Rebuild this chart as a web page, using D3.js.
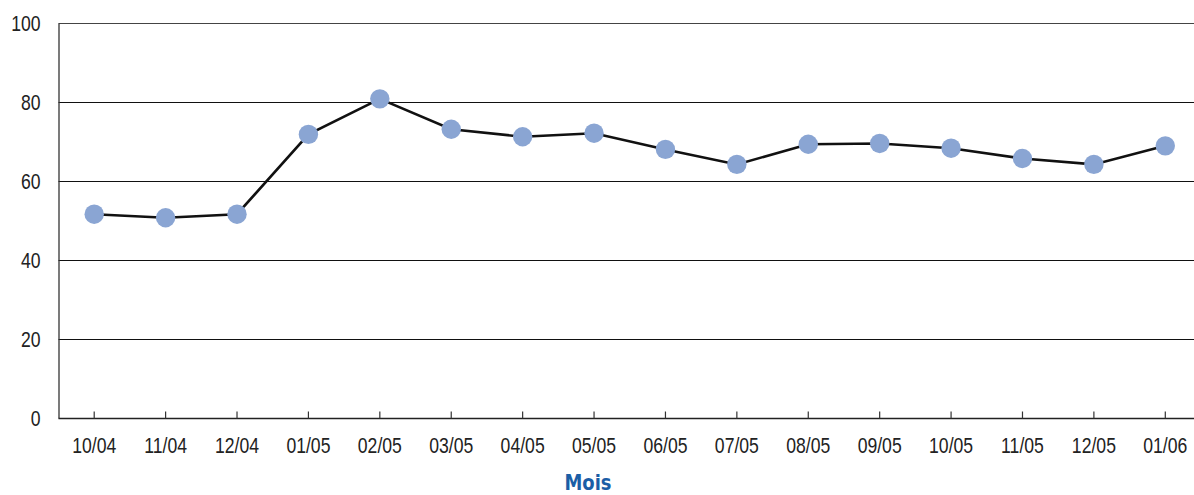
<!DOCTYPE html>
<html><head><meta charset="utf-8">
<script src="https://cdn.jsdelivr.net/npm/d3@7"></script>
<style>
html,body{margin:0;padding:0;background:#fff;}
svg{display:block;font-family:"Liberation Sans Narrow","DejaVu Sans Condensed","Arial Narrow",sans-serif;}
</style></head>
<body>
<svg id="c" width="1194" height="495"></svg>
<script>
const categories = ["10/04","11/04","12/04","01/05","02/05","03/05","04/05","05/05","06/05","07/05","08/05","09/05","10/05","11/05","12/05","01/06"];
const values = [51.6,50.7,51.6,71.8,80.8,73.1,71.2,72.1,68.0,64.2,69.3,69.5,68.3,65.7,64.2,68.9];
const yTicks = [0,20,40,60,80,100];
const xTitle = "Mois";

(function(){
const svg = d3.select("#c");
const mLeft = 58.5, mRight = 1201, mTop = 23, mBottom = 418;

const x = d3.scaleBand().domain(categories).range([mLeft, mRight]);
const y = d3.scaleLinear().domain([0,100]).range([mBottom, mTop]);
const cx = d => x(d) + x.bandwidth()/2;

function squeeze(sel, f){
  sel.each(function(){
    const len = this.getComputedTextLength();
    d3.select(this).attr("textLength", len*f).attr("lengthAdjust","spacingAndGlyphs");
  });
}

// gridlines
svg.append("g").selectAll("line").data(yTicks.filter(t=>t>0)).join("line")
  .attr("x1", mLeft).attr("x2", 1194)
  .attr("y1", d=>Math.round(y(d))+0.5).attr("y2", d=>Math.round(y(d))+0.5)
  .attr("stroke", d=>d===100?"#444":"#111").attr("stroke-width",1.2);

// y axis
const yAxis = d3.axisLeft(y).tickValues(yTicks).tickSize(0).tickPadding(18);
const gy = svg.append("g").attr("transform",`translate(${mLeft},0)`).call(yAxis);
gy.select(".domain").attr("stroke","#333").attr("stroke-width",1.3);
gy.selectAll("text").attr("font-size",22).attr("fill","#222").attr("dy","0.36em").call(squeeze,0.8);

// x axis
const xAxis = d3.axisBottom(x).tickSizeInner(-7).tickSizeOuter(0).tickPadding(19);
const gx = svg.append("g").attr("transform",`translate(0,${mBottom+0.5})`).call(xAxis);
gx.select(".domain").attr("stroke","#222").attr("stroke-width",1.5).attr("d",`M${mLeft},0H1194`);
gx.selectAll(".tick line").attr("stroke","#333").attr("stroke-width",1.2);
gx.selectAll("text").attr("font-size",22).attr("fill","#222").call(squeeze,0.8);

// line
const line = d3.line().x((d,i)=>cx(categories[i])).y(d=>y(d));
svg.append("path").datum(values).attr("d",line)
  .attr("fill","none").attr("stroke","#111").attr("stroke-width",2.6);

// markers
svg.append("g").selectAll("circle").data(values).join("circle")
  .attr("cx",(d,i)=>cx(categories[i])).attr("cy",d=>y(d)).attr("r",9.7)
  .attr("fill","#8aa5d3");

// title
svg.append("text").attr("x",588).attr("y",490).attr("text-anchor","middle")
  .attr("font-size",21).attr("font-weight","bold").attr("fill","#1b5ea6").text(xTitle)
  .call(squeeze,0.95);
})();
</script>
</body></html>
